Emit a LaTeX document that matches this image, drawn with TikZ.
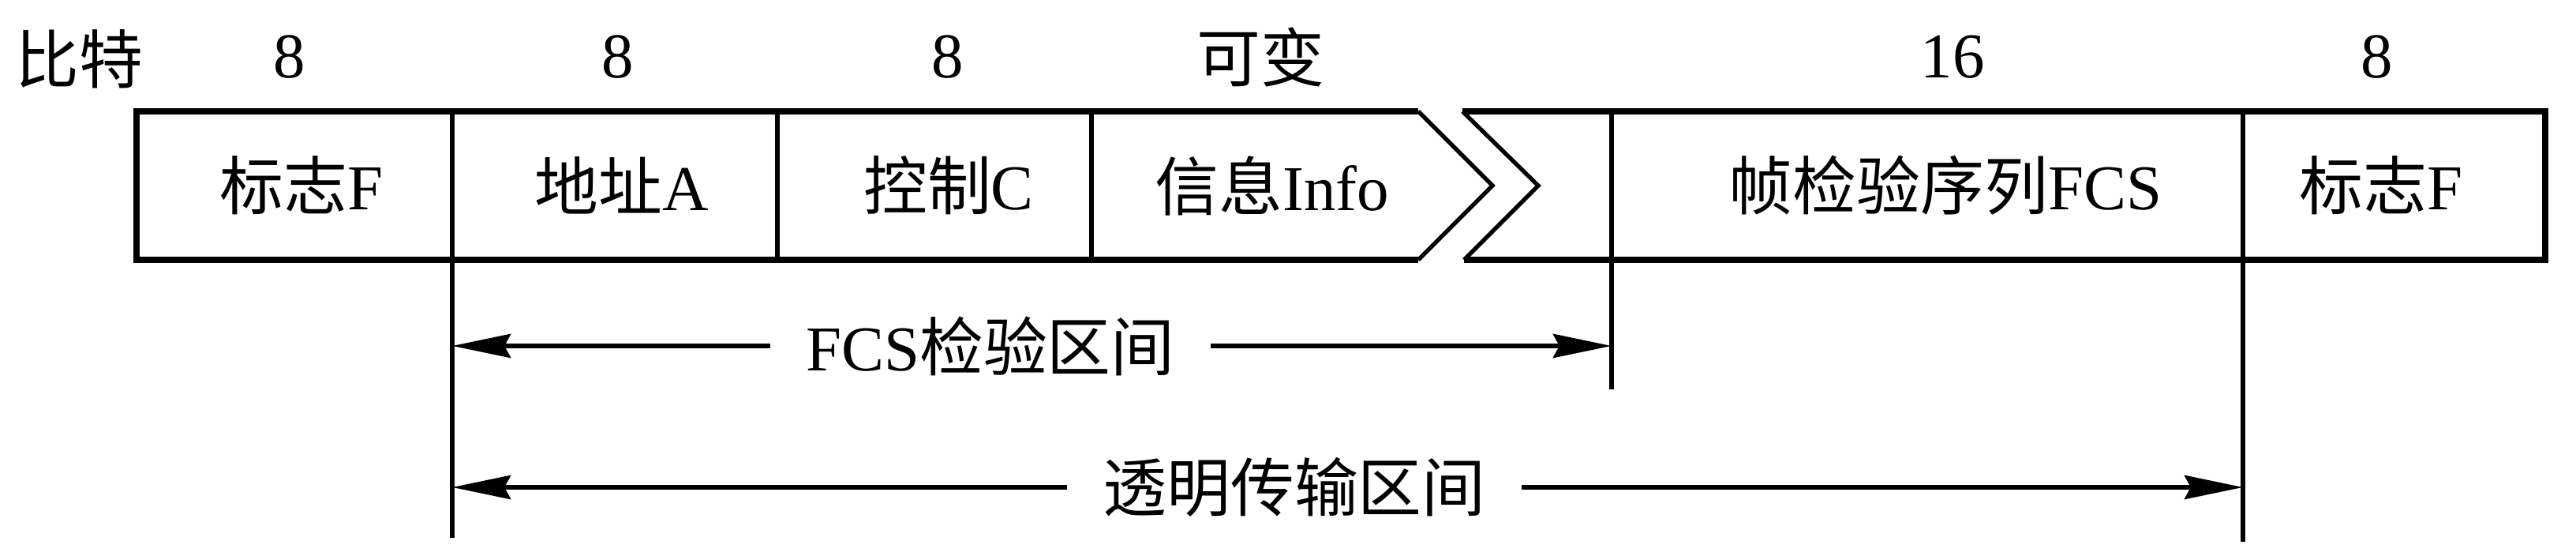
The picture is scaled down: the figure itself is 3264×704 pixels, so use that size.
\documentclass[tikz,border=0pt]{standalone}
\usepackage{fontspec}
\setmainfont{Liberation Serif}
\newfontfamily\cjk{Noto Sans CJK SC}
\usetikzlibrary{arrows.meta}

\tikzset{
  frameline/.style={line width=2.4pt},
  sepline/.style={line width=1.5pt},
  spanarrow/.style={line width=1.7pt, -{Stealth[length=0.74cm, width=0.3cm, inset=0.08cm]}},
  spanlabel/.style={inner xsep=0.45cm, inner ysep=0pt}
}

\begin{document}
\begin{tikzpicture}[x=0.01cm, y=-0.01cm, font=\fontsize{23}{28}\selectfont]
                \useasboundingbox (0,0) rectangle (3264,704);
                % Frame, broken after the info field
                \draw[frameline] (1797,141) -- (173,141) -- (173,329) -- (1797,329);
                \draw[frameline] (1853,141) -- (3225,141) -- (3225,329) -- (1855,329);
                \draw[sepline] (1797,141) -- (1891,235) -- (1797,329);
                \draw[sepline] (1853,141) -- (1949,235) -- (1855,329);

                % Field separators (some run down as range marks)
                \foreach \x/\y [count=\i] in {573/681, 985/329, 1383/329, 2042/493, 2842/686} {
                    \draw[sepline] (\x,141) -- (\x,\y);
                    \coordinate (s\i) at (\x,\y);
                }

                % Field names
                \node (flag1) at (382,235) {{\cjk 标志}F};
                \node (addr) at (788,235) {{\cjk 地址}A};
                \node (ctrl) at (1202,235) {{\cjk 控制}C};
                \node (info) at (1612,235) {{\cjk 信息}Info};
                \node (fcs) at (2465,235) {{\cjk 帧检验序列}FCS};
                \node (flag2) at (3017,235) {{\cjk 标志}F};

                % Bit counts
                \node (bits) at (100,75) {\cjk 比特};
                \foreach \x/\t [count=\i] in {367/8, 783/8, 1201/8, 1597/{\cjk 可变}, 2474/16, 3012/8}
                    \node (n\i) at (\x,72) {\t};

                % Ranges
                \node[spanlabel] (chk) at (1255,438) {FCS{\cjk 检验区间}};
                \draw[spanarrow] (chk.west) -- (chk.west -| s1);
                \draw[spanarrow] (chk.east) -- (chk.east -| s4);
                \node[spanlabel] (transp) at (1640,617) {\cjk 透明传输区间};
                \draw[spanarrow] (transp.west) -- (transp.west -| s1);
                \draw[spanarrow] (transp.east) -- (transp.east -| s5);
            \end{tikzpicture}
\end{document}
